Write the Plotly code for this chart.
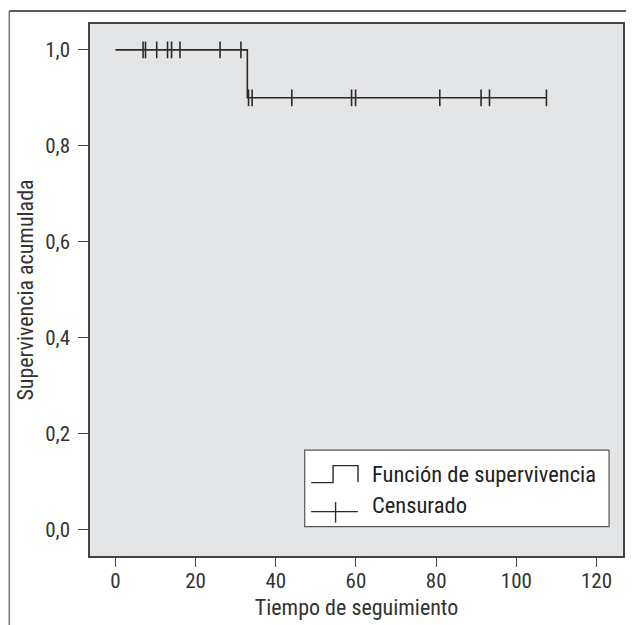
import plotly.graph_objects as go

# Kaplan-Meier step function (time, cumulative survival)
step_times = [0, 32.9, 107.5]
step_surv = [1.0, 0.9, 0.9]

# Censored observation times
censor_times = [6.9, 7.5, 10.3, 13.0, 14.0, 16.1, 26.1, 31.3,
                33.2, 34.1, 44.0, 58.9, 59.9, 80.9, 91.2, 93.3, 107.5]

x_ticks = [0, 20, 40, 60, 80, 100, 120]
y_ticks = [0.0, 0.2, 0.4, 0.6, 0.8, 1.0]

legend_labels = ["Función de supervivencia", "Censurado"]
x_title = "Tiempo de seguimiento"
y_title = "Supervivencia acumulada"


def surv_at(t):
    s = step_surv[0]
    for tt, ss in zip(step_times, step_surv):
        if t >= tt:
            s = ss
    return s


censor_surv = [surv_at(t) for t in censor_times]

FONT = "Liberation Sans Narrow, Arial Narrow, Roboto Condensed, Liberation Sans, sans-serif"
LINE_COLOR = "#2b2b2b"

OFF = 8  # page body margin
W, H = 634 - OFF, 625 - OFF
# plot area in reference pixel coordinates
PL, PR, PT, PB = 90, 625, 24, 557
L, T = PL - OFF, PT - OFF
R = W - (PR - OFF)
B = H - (PB - OFF)
pw, ph = PR - PL, PB - PT


def px(x):
    return (x - PL) / pw


def py(y):
    return (PB - y) / ph


fig = go.Figure()
fig.add_trace(go.Scatter(
    x=step_times, y=step_surv, mode="lines", line_shape="hv",
    line=dict(color=LINE_COLOR, width=1.6), showlegend=False, hoverinfo="skip"))
fig.add_trace(go.Scatter(
    x=censor_times, y=censor_surv, mode="markers",
    marker=dict(symbol="line-ns", size=12, line=dict(color=LINE_COLOR, width=1.6)),
    showlegend=False))

shapes = []
# outer frame (top and left visible)
shapes.append(dict(type="line", xref="paper", yref="paper",
                   x0=px(9), x1=px(640), y0=py(11), y1=py(11),
                   line=dict(color="#222", width=1.5)))
shapes.append(dict(type="line", xref="paper", yref="paper",
                   x0=px(9), x1=px(9), y0=py(11), y1=py(630),
                   line=dict(color="#777", width=1.5)))
# legend box
shapes.append(dict(type="rect", xref="paper", yref="paper",
                   x0=px(305.5), x1=px(611), y0=py(451), y1=py(527.5),
                   fillcolor="white", line=dict(color="#555", width=1.2), layer="above"))
# legend symbol: step
shapes.append(dict(type="path", xref="paper", yref="paper",
                   path=f"M {px(312)},{py(483.5)} L {px(334)},{py(483.5)} L {px(334)},{py(466.5)} "
                        f"L {px(359)},{py(466.5)} L {px(359)},{py(483)}",
                   line=dict(color=LINE_COLOR, width=1.4), layer="above"))
# legend symbol: cross
shapes.append(dict(type="line", xref="paper", yref="paper",
                   x0=px(312), x1=px(359), y0=py(512.5), y1=py(512.5),
                   line=dict(color=LINE_COLOR, width=1.4), layer="above"))
shapes.append(dict(type="line", xref="paper", yref="paper",
                   x0=px(336.5), x1=px(336.5), y0=py(503), y1=py(523.5),
                   line=dict(color=LINE_COLOR, width=1.4), layer="above"))

annotations = [
    dict(xref="paper", yref="paper", x=px(371), y=py(475), text=legend_labels[0],
         showarrow=False, xanchor="left", yanchor="middle",
         font=dict(family=FONT, size=22.5, color="#222")),
    dict(xref="paper", yref="paper", x=px(371), y=py(506), text=legend_labels[1],
         showarrow=False, xanchor="left", yanchor="middle",
         font=dict(family=FONT, size=22.5, color="#222")),
]

fig.update_layout(
    width=W, height=H,
    margin=dict(l=L, r=R, t=T, b=B, pad=0),
    paper_bgcolor="white", plot_bgcolor="#e4e5e7",
    separators=",.",
    font=dict(family=FONT, size=20, color="#333"),
    shapes=shapes, annotations=annotations,
    showlegend=False,
)
fig.update_xaxes(
    range=[-6.34, 126.6], tickvals=x_ticks, ticks="outside", ticklen=9,
    tickcolor="#444", tickwidth=1.3, showgrid=False, zeroline=False,
    showline=True, linecolor="#444", linewidth=1.5, mirror=True,
    title=dict(text=x_title, font=dict(size=22), standoff=8),
    tickfont=dict(size=21), ticklabelstandoff=-4,
)
fig.update_yaxes(
    range=[-0.056, 1.054], tickvals=y_ticks, tickformat=".1f", ticks="outside",
    ticklen=10, tickcolor="#444", tickwidth=1.3, showgrid=False, zeroline=False,
    showline=True, linecolor="#444", linewidth=1.5, mirror=True,
    title=dict(text=y_title, font=dict(size=22), standoff=5),
    tickfont=dict(size=21), ticklabelstandoff=4,
)

fig.write_html("out.html")
